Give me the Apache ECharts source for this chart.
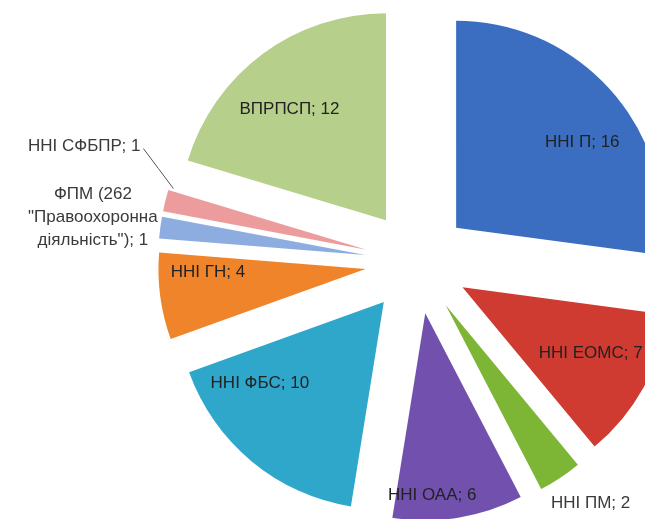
<!DOCTYPE html>
<html><head><meta charset="utf-8">
<script src="https://cdn.jsdelivr.net/npm/echarts@6/dist/echarts.min.js"></script>
<style>html,body{margin:0;padding:0;background:#fff}#c{width:645px;height:519px}</style>
</head><body><div id="c"></div>
<script>
const categories = ['ННІ П', 'ННІ ЕОМС', 'ННІ ПМ', 'ННІ ОАА', 'ННІ ФБС', 'ННІ ГН', 'ФПМ (262\n"Правоохоронна\nдіяльність")', 'ННІ СФБПР', 'ВПРПСП'];
const values = [16, 7, 2, 6, 10, 4, 1, 1, 12];
const colors = ['#3B6EC0', '#CF3A31', '#7DB535', '#7251AE', '#2FA7CB', '#F0842A', '#8DADE0', '#EC9C9C', '#B6CF8B'];
const labelShift = [[46, -15], [35, 15], [86, 109], [-10, 77], [-56, -1], [-52, -11], [-167, -24], [0, 0], [-33, -25]];
const outsideLabels = [2, 6, 7];
const leaderIndex = 7;

const chart = echarts.init(document.getElementById('c'), null, {renderer: 'canvas'});
const data = categories.map((name, i) => {
  const item = {
    name: name,
    value: values[i],
    selected: true,
    itemStyle: {color: colors[i]}
  };
  if (outsideLabels.indexOf(i) >= 0) item.label = {color: '#3a3a3a'};
  if (i === leaderIndex) {
    item.label = {position: 'outside', color: '#3a3a3a'};
    item.labelLine = {show: true, length: 10, length2: 10, lineStyle: {color: '#555', width: 1}};
  }
  return item;
});

chart.setOption({
  animation: false,
  series: [{
    type: 'pie',
    center: [417, 262],
    radius: [0, 207],
    startAngle: 90,
    clockwise: true,
    selectedMode: 'multiple',
    selectedOffset: 52,
    avoidLabelOverlap: false,
    emphasis: {scale: false},
    select: {itemStyle: {borderWidth: 0}},
    itemStyle: {borderWidth: 0},
    label: {
      show: true,
      position: 'inside',
      formatter: '{b}; {c}',
      color: '#222',
      fontFamily: 'Liberation Sans, Arial, sans-serif',
      fontSize: 17,
      lineHeight: 23,
      align: 'center'
    },
    labelLine: {show: false},
    labelLayout: function (params) {
      const i = params.dataIndex;
      if (i !== leaderIndex) {
        return {dx: labelShift[i][0], dy: labelShift[i][1]};
      }
      const p0 = params.labelLinePoints[0];
      const r = params.labelRect;
      const tx = p0[0] - 25, ty = p0[1] - 54;
      return {
        dx: tx - (r.x + r.width),
        dy: ty - (r.y + r.height / 2),
        labelLinePoints: [[p0[0] + 8, p0[1] - 12], [p0[0] - 7, p0[1] - 32], [p0[0] - 22, p0[1] - 52]]
      };
    },
    data: data
  }]
});
</script>
</body></html>
